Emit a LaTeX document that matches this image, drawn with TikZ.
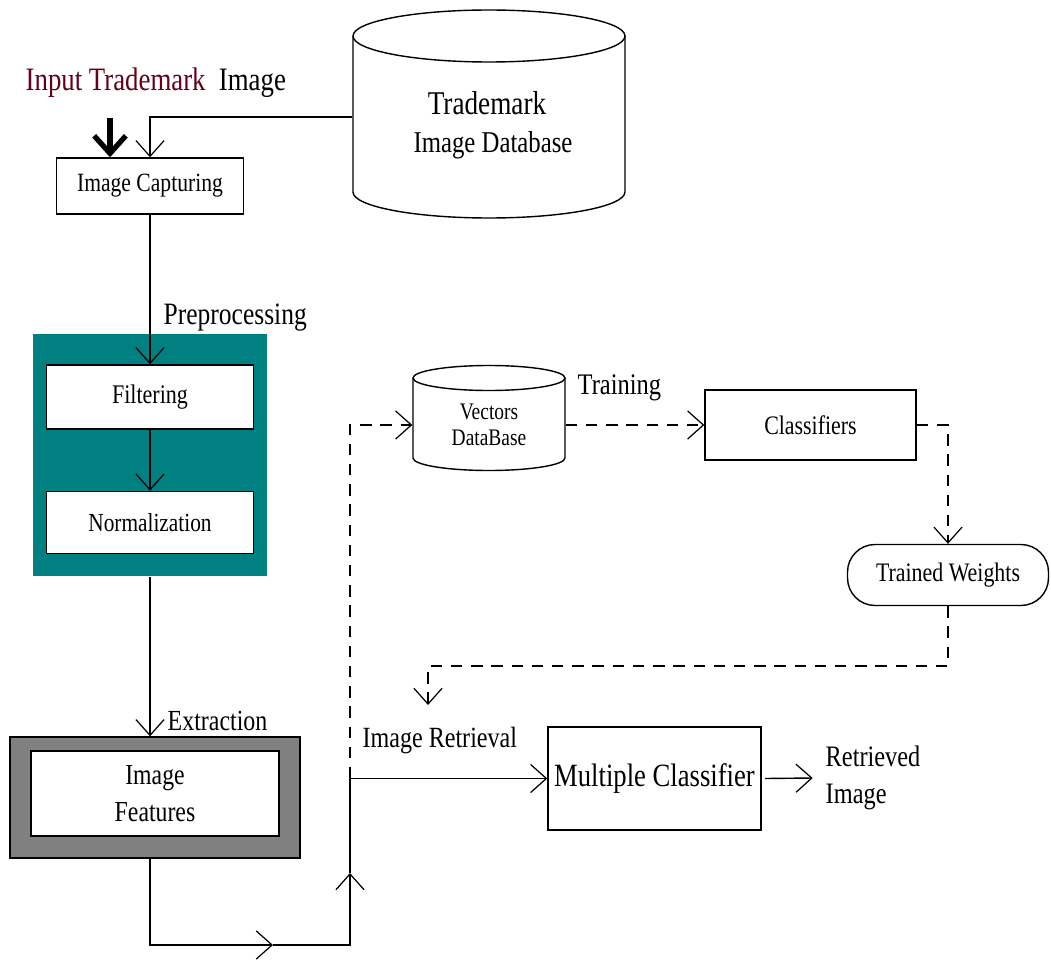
\documentclass[tikz,border=0pt]{standalone}
\usepackage{fontspec}
\setmainfont{Liberation Serif}[FakeStretch=0.82]
\usetikzlibrary{arrows.meta,positioning}
\definecolor{tealbg}{RGB}{0,128,128}
\definecolor{framegray}{RGB}{128,128,128}
\definecolor{inputred}{RGB}{100,0,25}
\newcommand{\fs}[1]{\fontsize{#1}{#1}\selectfont}
\begin{document}
\begin{tikzpicture}[x=0.02cm,y=-0.02cm,line width=0.8pt,
      >={Straight Barb[length=9pt,width=16pt,line width=0.7pt]},
      box/.style={draw,fill=white,rectangle,inner sep=0pt},
      lbl/.style={anchor=west,inner sep=0pt},
      arr/.style={->},
      dash arr/.style={->,dash pattern=on 6.5pt off 5pt},
      bold arr/.style={-{Straight Barb[length=10pt,width=18pt,line width=3pt]},line width=3.5pt}]
      \useasboundingbox (0,0) rectangle (1051,966);

      % input and capture
      \node[lbl,font=\fs{18.6}] (inputlbl) at (25,83) {\textcolor{inputred}{Input Trademark}\ \ Image};
      \node[box,minimum width=3.74cm,minimum height=1.12cm,font=\fs{15}] (capture) at (150,186) {Image Capturing};
      \coordinate (inp) at (110,118);
      \draw[bold arr] (inp) -- (inp |- capture.north);

      % trademark database
      \node[minimum width=5.44cm,minimum height=4.16cm] (imgdb) at (489,117) {};
      \draw (353,36) -- (353,192) arc[start angle=180,end angle=360,x radius=2.72cm,y radius=0.52cm] -- (625,36);
      \draw (489,36) ellipse[x radius=2.72cm,y radius=0.52cm];
      \node[font=\fs{18.9}] (dbtitle) at (487,103) {Trademark};
      \node[font=\fs{17.2}] (dbsub) at (493,145) {Image Database};
      \draw[arr] (imgdb.west) -| (capture.north);

      % preprocessing
      \node[fill=tealbg,minimum width=4.68cm,minimum height=4.84cm,inner sep=0pt] (prep) at (150,455) {};
      \node[box,minimum width=4.14cm,minimum height=1.28cm,font=\fs{15.3}] (filter) at (150,397) {Filtering};
      \node[box,minimum width=4.14cm,minimum height=1.24cm,font=\fs{14.8},below=1.22cm of filter] (norm) {Normalization\hspace{0.6cm}};
      \node[lbl,font=\fs{17.7}] (preplbl) at (163,318) {Preprocessing};
      \draw[arr] (capture.south) -- (filter.north);
      \draw[arr] (filter.south) -- (norm.north);

      % features
      \node[draw,fill=framegray,minimum width=5.8cm,minimum height=2.42cm,inner sep=0pt] (featout) at (155,797.5) {};
      \node[box,minimum width=4.96cm,minimum height=1.7cm,align=center,font=\fontsize{16.5}{21}\selectfont] (feat) at (155,793.5) {Image\\Features};
      \node[lbl,font=\fs{16.6}] (extlbl) at (167,721) {Extraction};
      \draw[arr] (prep.south) -- (prep.south |- featout.north);

      % retrieval path
      \node[box,minimum width=4.26cm,minimum height=2.06cm,font=\fs{18.5}] (multi) at (654.5,778.5) {Multiple Classifier};
      \node[lbl,align=left,font=\fontsize{16.9}{21}\selectfont] (retr) at (825,778) {Retrieved\\Image};
      \node[lbl,font=\fs{16.7}] (retlbl) at (362,740) {Image Retrieval};
      \coordinate (m1) at (273,945);
      \coordinate (m2) at (350,873);
      \draw[arr] (prep.south |- featout.south) |- (m1);
      \draw[arr] (m1) -| (m2);
      \draw[arr] (m2) |- (multi.west);
      \draw[arr] ([xshift=2pt]multi.east) -- ([xshift=-7pt]retr.west);

      % training loop
      \node[align=center,minimum width=3.04cm,font=\fontsize{13.5}{14.7}\selectfont] (vdb) at (489,425) {Vectors\\DataBase};
      \draw (413,378) -- (413,458) arc[start angle=180,end angle=360,x radius=1.52cm,y radius=0.25cm] -- (565,378);
      \draw (489,378) ellipse[x radius=1.52cm,y radius=0.25cm];
      \node[box,minimum width=4.22cm,minimum height=1.4cm,font=\fs{15.2}] (classif) at (810.5,425) {Classifiers};
      \node[box,rounded corners=0.55cm,minimum width=4.02cm,minimum height=1.22cm,font=\fs{15.2}] (weights) at (948,575) {Trained Weights};
      \node[lbl,font=\fs{17}] (trainlbl) at (577,388) {Training};
      \coordinate (ret) at (428,705);
      \draw[dash arr] (m2 |- multi.west) |- (vdb.west);
      \draw[dash arr] (vdb.east) -- (classif.west);
      \draw[dash arr] (classif.east) -| (weights.north);
      \draw[dash arr] (weights.south) -- ++(0,60) -| (ret);
\end{tikzpicture}
\end{document}
